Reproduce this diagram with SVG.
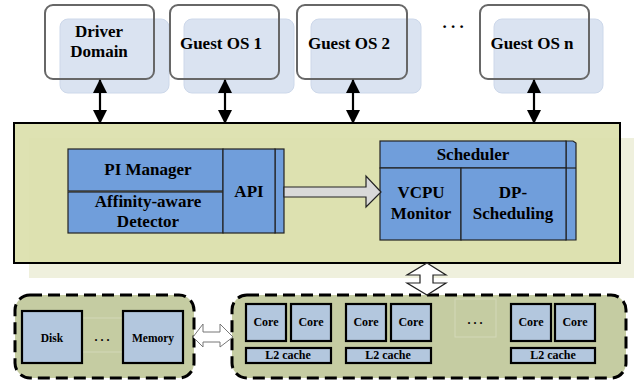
<svg xmlns="http://www.w3.org/2000/svg" width="634" height="381" viewBox="0 0 634 381">
<defs>
<style>
.t{font-family:"Liberation Serif","Times New Roman",serif;font-weight:bold;fill:#000;text-anchor:middle}
.f17{font-size:17px}
.f12{font-size:12px}
.f11{font-size:11.5px}
.vmsh{fill:#dae3f1;stroke:#cdd8ea;stroke-width:1}
.vm{fill:none;stroke:#676767;stroke-width:2}
.blue{fill:#709edb;stroke:#222;stroke-width:1.2}
.hw{fill:#b3c7de;stroke:#000;stroke-width:2.2}
.grp{fill:#c5cca2;stroke:#000;stroke-width:3;stroke-dasharray:12 6}
.conn{stroke:#000;stroke-width:2.2;fill:none}
</style>
<marker id="ah" viewBox="0 0 14 14" refX="13" refY="7" markerWidth="14" markerHeight="14" orient="auto-start-reverse" markerUnits="userSpaceOnUse">
<path d="M0,0 L14,7 L0,14 Z" fill="#000"/>
</marker>
</defs>
<rect width="634" height="381" fill="#fff"/>

<!-- VM nodes -->
<g id="driver-domain">
<rect class="vmsh" x="60" y="19" width="109" height="74" rx="8"/>
<rect class="vm" x="45" y="5" width="109" height="74" rx="8"/>
<text class="t f17" x="99" y="37">Driver</text>
<text class="t f17" x="99" y="57">Domain</text>
</g>
<g id="guest-os-1">
<rect class="vmsh" x="184" y="19" width="110" height="74" rx="8"/>
<rect class="vm" x="170" y="5" width="109" height="74" rx="8"/>
<text class="t f17" x="221" y="49">Guest OS 1</text>
</g>
<g id="guest-os-2">
<rect class="vmsh" x="311" y="19" width="110" height="74" rx="8"/>
<rect class="vm" x="297" y="5" width="110" height="74" rx="8"/>
<text class="t f17" x="349" y="49">Guest OS 2</text>
</g>
<text class="t f17" x="453" y="28">. . .</text>
<g id="guest-os-n">
<rect class="vmsh" x="494" y="19" width="109" height="74" rx="8"/>
<rect class="vm" x="480" y="5" width="109" height="74" rx="8"/>
<text class="t f17" x="532" y="49">Guest OS n</text>
</g>

<!-- Hypervisor -->
<g id="hypervisor">
<rect x="29" y="138" width="605" height="140" fill="#eff0dd"/>
<rect x="14" y="123" width="606" height="140" fill="#dbe0ab" fill-opacity="0.92" stroke="#000" stroke-width="2"/>
</g>

<g id="pi-manager">
<rect class="blue" x="68" y="149" width="155" height="42"/>
<text class="t f17" x="148" y="175">PI Manager</text>
</g>
<g id="affinity-detector">
<rect class="blue" x="68" y="192" width="155" height="41"/>
<text class="t f17" x="148" y="207">Affinity-aware</text>
<text class="t f17" x="148" y="227">Detector</text>
</g>
<g id="api">
<rect class="blue" x="275" y="149" width="9" height="84"/>
<rect class="blue" x="223" y="149" width="52" height="84"/>
<text class="t f17" x="249" y="197">API</text>
</g>

<g id="scheduler">
<path class="blue" d="M566,141 L573,141 L576,143 L576,240 L566,240 Z"/>
<rect class="blue" x="380" y="141" width="186" height="27"/>
<line x1="566" y1="168" x2="576" y2="168" stroke="#222" stroke-width="1.2"/>
<text class="t f17" x="473" y="160">Scheduler</text>
</g>
<g id="vcpu-monitor">
<rect class="blue" x="380" y="168" width="81" height="72"/>
<text class="t f17" x="421" y="198">VCPU</text>
<text class="t f17" x="421" y="219">Monitor</text>
</g>
<g id="dp-scheduling">
<rect class="blue" x="461" y="168" width="105" height="72"/>
<text class="t f17" x="513" y="198">DP-</text>
<text class="t f17" x="513" y="219">Scheduling</text>
</g>

<!-- Hardware -->
<g id="storage-group">
<rect class="grp" x="15" y="295" width="179" height="83" rx="15"/>
<line x1="82" y1="318" x2="123" y2="318" stroke="#d3d8b8" stroke-width="1"/>
<line x1="82" y1="352" x2="123" y2="352" stroke="#d3d8b8" stroke-width="1"/>
<text class="t f12" x="102" y="341">. . .</text>
</g>
<g id="disk">
<rect class="hw" x="22" y="311" width="60" height="52"/>
<text class="t f11" x="52" y="342">Disk</text>
</g>
<g id="memory">
<rect class="hw" x="123" y="311" width="60" height="52"/>
<text class="t f11" x="153" y="342">Memory</text>
</g>

<g id="cpu-group">
<rect class="grp" x="232" y="295" width="394" height="83" rx="15"/>
<rect x="455" y="299" width="41" height="38" fill="none" stroke="#d3d8b8" stroke-width="1"/>
<text class="t f12" x="475" y="324">. . .</text>
</g>
<g id="cpu-1">
<rect class="hw" x="246" y="304" width="40" height="37"/>
<text class="t f12" x="266" y="326">Core</text>
<rect class="hw" x="291" y="304" width="40" height="37"/>
<text class="t f12" x="311" y="326">Core</text>
<rect class="hw" x="246" y="348" width="85" height="15"/>
<text class="t f12" x="288" y="359">L2 cache</text>
</g>
<g id="cpu-2">
<rect class="hw" x="346" y="304" width="40" height="37"/>
<text class="t f12" x="366" y="326">Core</text>
<rect class="hw" x="391" y="304" width="40" height="37"/>
<text class="t f12" x="411" y="326">Core</text>
<rect class="hw" x="346" y="348" width="85" height="15"/>
<text class="t f12" x="388" y="359">L2 cache</text>
</g>
<g id="cpu-n">
<rect class="hw" x="511" y="304" width="40" height="37"/>
<text class="t f12" x="531" y="326">Core</text>
<rect class="hw" x="555" y="304" width="40" height="37"/>
<text class="t f12" x="575" y="326">Core</text>
<rect class="hw" x="511" y="348" width="84" height="15"/>
<text class="t f12" x="553" y="359">L2 cache</text>
</g>

<!-- Connectors -->
<g id="connectors">
<line class="conn" x1="100" y1="80" x2="100" y2="123" marker-start="url(#ah)" marker-end="url(#ah)"/>
<line class="conn" x1="225" y1="80" x2="225" y2="123" marker-start="url(#ah)" marker-end="url(#ah)"/>
<line class="conn" x1="353" y1="80" x2="353" y2="123" marker-start="url(#ah)" marker-end="url(#ah)"/>
<line class="conn" x1="534" y1="80" x2="534" y2="123" marker-start="url(#ah)" marker-end="url(#ah)"/>
<path d="M284,187 L366,187 L366,176 L381,192 L366,207 L366,197 L284,197 Z" fill="#d9d9d9" stroke="#222" stroke-width="1.2"/>
<path d="M427,263 L446,275 L433,275 L433,283 L446,283 L427,295 L407,283 L420,283 L420,275 L407,275 Z" fill="#fff" stroke="#222" stroke-width="1.2"/>
<path d="M193,337 L203,324 L203,332 L220,332 L220,324 L233,337 L220,347 L220,342 L203,342 L203,347 Z" fill="#fff" stroke="#777" stroke-width="1"/>
</g>
</svg>
